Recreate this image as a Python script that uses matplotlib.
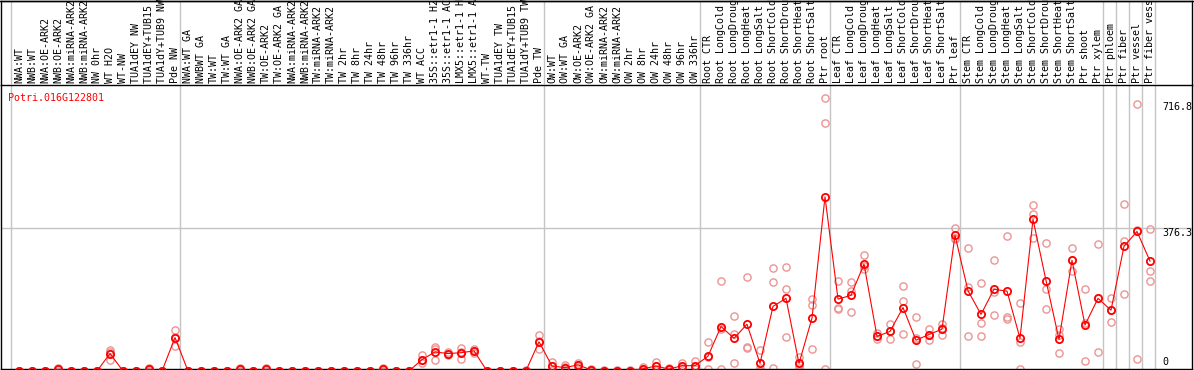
import matplotlib
matplotlib.use("Agg")
import matplotlib.pyplot as plt
from matplotlib.transforms import blended_transform_factory

title = "Potri.016G122801"

labels = [
    "NWA:WT", "NWB:WT", "NWA:OE-ARK2", "NWB:OE-ARK2", "NWA:miRNA-ARK2", "NWB:miRNA-ARK2",
    "NW 0hr", "WT H2O", "WT-NW", "TUA1dEY NW", "TUA1dEY+TUB15 NW", "TUA1dY+TUB9 NW", "Pde NW",
    "NWA:WT GA", "NWBWT GA", "TW:WT", "TW:WT GA", "NWA:OE-ARK2 GA", "NWB:OE-ARK2 GA",
    "TW:OE-ARK2", "TW:OE-ARK2 GA", "NWA:miRNA-ARK2", "NWB:miRNA-ARK2", "TW:miRNA-ARK2",
    "TW:miRNA-ARK2", "TW 2hr", "TW 8hr", "TW 24hr", "TW 48hr", "TW 96hr", "TW 336hr",
    "WT ACC", "35S::etr1-1 H2O", "35S::etr1-1 ACC", "LMX5::etr1-1 H2O", "LMX5::etr1-1 ACC",
    "WT-TW", "TUA1dEY TW", "TUA1dEY+TUB15 TW", "TUA1dY+TUB9 TW", "Pde TW",
    "OW:WT", "OW:WT GA", "OW:OE-ARK2", "OW:OE-ARK2 GA", "OW:miRNA-ARK2", "OW:miRNA-ARK2",
    "OW 2hr", "OW 8hr", "OW 24hr", "OW 48hr", "OW 96hr", "OW 336hr",
    "Root CTR", "Root LongCold", "Root LongDrought", "Root LongHeat", "Root LongSalt",
    "Root ShortCold", "Root ShortDrought", "Root ShortHeat", "Root ShortSalt", "Ptr root",
    "Leaf CTR", "Leaf LongCold", "Leaf LongDrought", "Leaf LongHeat", "Leaf LongSalt",
    "Leaf ShortCold", "Leaf ShortDrought", "Leaf ShortHeat", "Leaf ShortSalt", "Ptr leaf",
    "Stem CTR", "Stem LongCold", "Stem LongDrought", "Stem LongHeat", "Stem LongSalt",
    "Stem ShortCold", "Stem ShortDrought", "Stem ShortHeat", "Stem ShortSalt", "Ptr shoot",
    "Ptr xylem", "Ptr phloem", "Ptr fiber", "Ptr vessel", "Ptr fiber vessel",
]

means = [
    0, 0, 0, 4, 0, 0, 0, 46, 0, 0, 4, 0, 88,
    0, 0, 0, 0, 4, 0, 4, 0, 0, 0, 0, 0, 0, 0, 0, 4, 0, 0,
    30, 50, 46, 48, 53, 0, 0, 0, 1, 77,
    13, 9, 16, 3, 1, 1, 1, 6, 13, 5, 14, 14,
    39, 117, 86, 123, 20, 170, 191, 20, 139, 458,
    189, 199, 281, 91, 104, 167, 81, 96, 110, 357,
    211, 149, 215, 210, 86, 399, 238, 83, 291, 121,
    191, 160, 328, 367, 289,
]

rep1 = [
    0, 0, 0, 8, 0, 0, 0, 56, 0, 0, 8, 0, 108,
    0, 0, 0, 0, 8, 0, 8, 0, 0, 0, 0, 0, 0, 0, 0, 8, 0, 0,
    41, 63, 50, 61, 57, 0, 0, 0, 3, 94,
    24, 15, 22, 5, 2, 2, 2, 10, 24, 8, 20, 26,
    76, 238, 144, 246, 54, 270, 273, 36, 189, 716.8,
    238, 233, 304, 99, 123, 223, 141, 110, 124, 375,
    323, 231, 291, 354, 178, 436, 336, 110, 323, 215,
    333, 191, 438, 701, 373,
]

rep2 = [
    0, 0, 0, 4, 0, 0, 0, 50, 0, 0, 4, 0, 90,
    0, 0, 0, 0, 4, 0, 4, 0, 0, 0, 0, 0, 0, 0, 0, 4, 0, 0,
    28, 58, 46, 50, 53, 0, 0, 0, 0, 80,
    12, 10, 16, 3, 1, 1, 1, 6, 12, 5, 14, 12,
    36, 110, 97, 62, 8, 233, 215, 15, 173, 651,
    165, 210, 275, 91, 104, 183, 86, 96, 112, 350,
    220, 125, 207, 141, 76, 412, 215, 94, 291, 125,
    191, 160, 341, 370, 262,
]

rep3 = [
    0, 0, 0, 0, 0, 0, 0, 30, 0, 0, 0, 0, 65,
    0, 0, 0, 0, 0, 0, 0, 0, 0, 0, 0, 0, 0, 0, 0, 0, 0, 0,
    22, 28, 43, 32, 48, 0, 0, 0, 0, 57,
    3, 2, 10, 1, 0, 0, 0, 2, 3, 2, 8, 4,
    4, 4, 20, 60, 0, 8, 89, 9, 57, 4,
    163, 154, 268, 83, 83, 97, 18, 81, 94, 346,
    91, 91, 147, 136, 6, 350, 162, 47, 262, 26,
    49, 128, 203, 31, 236,
]

separators_after = [-1, 12, 40, 52, 62, 72, 83, 84, 85, 86, 87]
ytick_values = [0, 376.3, 716.8]
ytick_labels = ["0", "376.3", "716.8"]

# ---------------- layout (pixels) ----------------
W, H = 1194, 370
DPI = 100
X0_PIX, DX_PIX = 19.0, 13.0          # pixel of first category, spacing
PLOT_LEFT, PLOT_RIGHT = 1, 1192
PLOT_TOP, PLOT_BOT = 85, 369
ZERO_PIX, SLOPE = 371.0, 0.3802      # value 0 pixel row, px per unit

def fx(p):  # fig fraction x from pixel
    return p / W

def fy(p):  # fig fraction y from pixel row (top origin)
    return 1 - p / H

xlim = ((PLOT_LEFT - X0_PIX) / DX_PIX, (PLOT_RIGHT - X0_PIX) / DX_PIX)
ylim = ((ZERO_PIX - PLOT_BOT) / SLOPE, (ZERO_PIX - PLOT_TOP) / SLOPE)

mono = "DejaVu Sans Mono"
fs = 7.2
red = "#ff0000"
pink = "#ec9494"
grey = "#c4c4c4"

fig = plt.figure(figsize=(W / DPI, H / DPI), dpi=DPI)
fig.patch.set_facecolor("white")

ax = fig.add_axes([fx(PLOT_LEFT), fy(PLOT_BOT), fx(PLOT_RIGHT - PLOT_LEFT),
                   (PLOT_BOT - PLOT_TOP) / H])
axl = fig.add_axes([fx(PLOT_LEFT), fy(PLOT_TOP), fx(PLOT_RIGHT - PLOT_LEFT),
                    PLOT_TOP / H - 0.5 / H])

for a in (ax, axl):
    a.set_xlim(*xlim)
    a.set_xticks([])
    a.set_yticks([])
    a.set_facecolor("none")
    for s in a.spines.values():
        s.set_color("black")
        s.set_linewidth(1.0)
ax.set_ylim(*ylim)
axl.set_ylim(0, 1)
axl.spines["bottom"].set_visible(False)

x = list(range(len(labels)))

# separators
for s in separators_after:
    xs = s + 0.42
    ax.axvline(xs, color=grey, lw=1.0, zorder=1)
    axl.axvline(xs, color=grey, lw=1.0, zorder=1)

# horizontal grid at middle tick
ax.axhline(ytick_values[1], color=grey, lw=1.0, zorder=1)

# replicates
for rep in (rep1, rep2, rep3):
    ax.plot(x, rep, linestyle="none", marker="o", ms=5.2, mfc="none",
            mec=pink, mew=1.0, zorder=2, clip_on=False)

# mean line and markers
ax.plot(x, means, color=red, lw=0.8, zorder=3, clip_on=False)
ax.plot(x, means, linestyle="none", marker="o", ms=5.2, mfc="none",
        mec=red, mew=1.3, zorder=4, clip_on=False)

# category labels
lab_y = (PLOT_TOP - 83) / PLOT_TOP
for i, lab in enumerate(labels):
    axl.text(i, lab_y, lab, rotation=90, ha="center", va="bottom",
             fontfamily=mono, fontsize=fs, color="black")

# title
fig.text(fx(8), fy(98), title, color=red, fontfamily=mono, fontsize=fs,
         ha="left", va="center")

# right tick labels
tick_centers = [362, 232.5, 107]
for lab, yc in zip(ytick_labels, tick_centers):
    fig.text(fx(1162), fy(yc), lab, color="black", fontfamily=mono,
             fontsize=fs, ha="left", va="center")

# outer top border
fig.add_artist(plt.Line2D([0, 1], [fy(0.5), fy(0.5)], color="black", lw=1.0,
                          transform=fig.transFigure))

fig.savefig("out.png", dpi=DPI, facecolor="white")
